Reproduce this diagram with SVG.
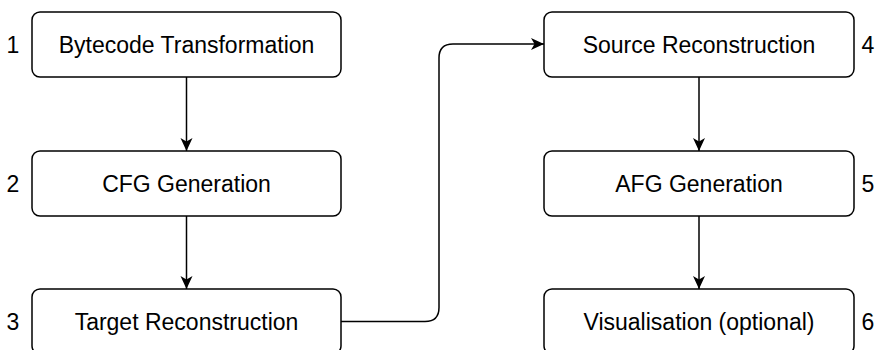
<svg xmlns="http://www.w3.org/2000/svg" width="877" height="350" viewBox="0 0 877 350">
  <defs>
    <marker id="arrow" viewBox="0 0 13 13" refX="13" refY="6.5" markerWidth="13" markerHeight="13" markerUnits="userSpaceOnUse" orient="auto">
      <path d="M0,0.5 L13,6.5 L0,12.5 L3.5,6.5 Z" fill="#000"/>
    </marker>
  </defs>
  <style>
    .box { fill: #fff; stroke: #000; stroke-width: 1.5; }
    .label { font-family: "Liberation Sans", Arial, sans-serif; font-size: 23px; fill: #000; text-anchor: middle; }
    .num { font-family: "Liberation Sans", Arial, sans-serif; font-size: 23px; fill: #000; text-anchor: middle; }
    .edge { fill: none; stroke: #000; stroke-width: 1.5; marker-end: url(#arrow); }
  </style>
  <rect width="877" height="350" fill="#fff"/>

  <g id="connectors">
    <path class="edge" d="M186.5,77 V151"/>
    <path class="edge" d="M186.5,216 V289"/>
    <path class="edge" d="M341,321.5 H425 Q439,321.5 439,307.5 V58 Q439,44 453,44 H544"/>
    <path class="edge" d="M699,77 V151"/>
    <path class="edge" d="M699,216 V289"/>
  </g>

  <g id="n1">
    <rect class="box" x="32" y="12" width="309" height="65" rx="8"/>
    <text class="label" x="186.5" y="53">Bytecode Transformation</text>
    <text class="num" x="13" y="53">1</text>
  </g>
  <g id="n2">
    <rect class="box" x="32" y="151" width="309" height="65" rx="8"/>
    <text class="label" x="186.5" y="192">CFG Generation</text>
    <text class="num" x="13" y="192">2</text>
  </g>
  <g id="n3">
    <rect class="box" x="32" y="289" width="309" height="65" rx="8"/>
    <text class="label" x="186.5" y="330">Target Reconstruction</text>
    <text class="num" x="13" y="330">3</text>
  </g>
  <g id="n4">
    <rect class="box" x="544" y="12" width="310" height="65" rx="8"/>
    <text class="label" x="699" y="53">Source Reconstruction</text>
    <text class="num" x="868" y="53">4</text>
  </g>
  <g id="n5">
    <rect class="box" x="544" y="151" width="310" height="65" rx="8"/>
    <text class="label" x="699" y="192">AFG Generation</text>
    <text class="num" x="868" y="192">5</text>
  </g>
  <g id="n6">
    <rect class="box" x="544" y="289" width="310" height="65" rx="8"/>
    <text class="label" x="699" y="330">Visualisation (optional)</text>
    <text class="num" x="868" y="330">6</text>
  </g>
</svg>
